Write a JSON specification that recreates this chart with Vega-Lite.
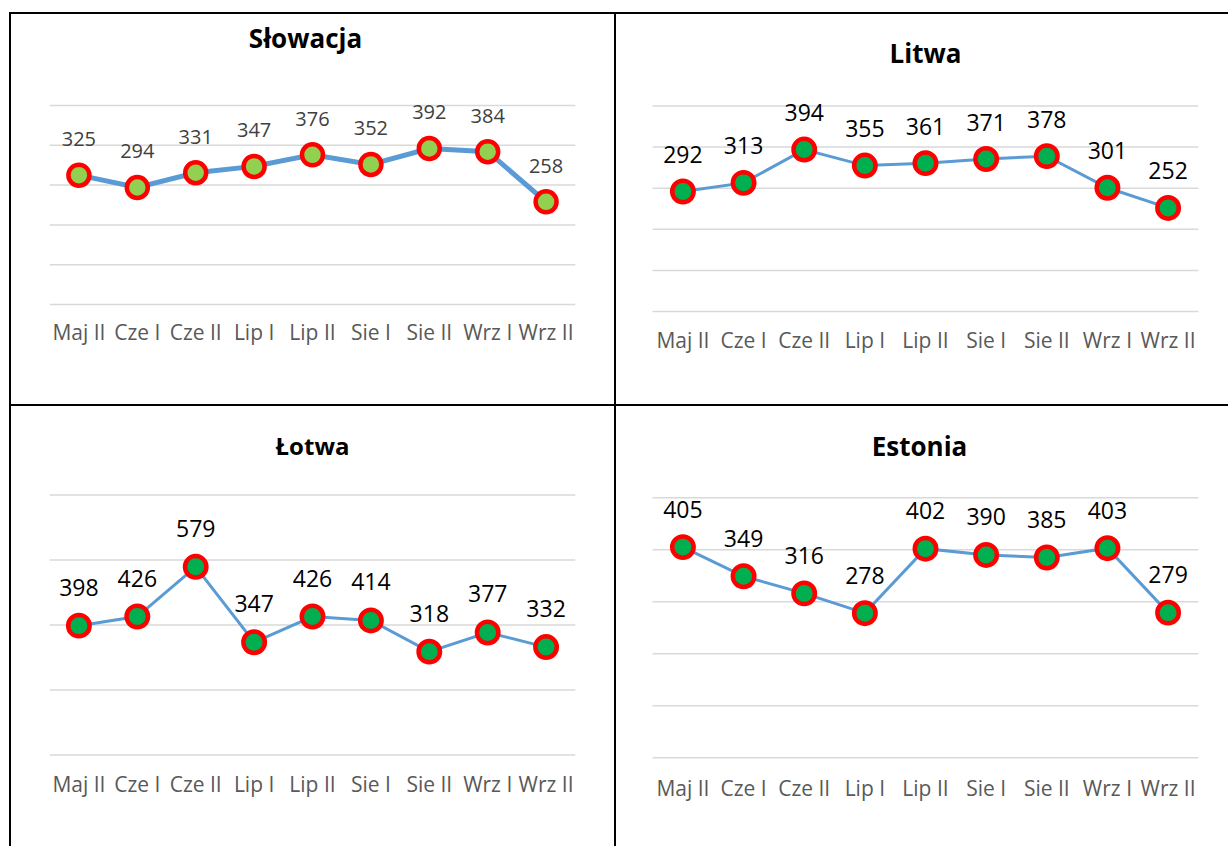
{
  "$schema": "https://vega.github.io/schema/vega-lite/v6.json",
  "padding": {"left": 9, "top": 12, "right": 0, "bottom": 0},
  "background": "#ffffff",
  "columns": 2,
  "spacing": 0,
  "bounds": "flush",
  "config": {
    "view": {"stroke": "#000000", "strokeWidth": 2},
    "font": "Open Sans",
    "concat": {"spacing": 0}
  },
  "concat": [
        {
          "width": 605,
          "height": 392,
          "data": {"values": [
            {"okres": "Maj II", "wartosc": 325},
            {"okres": "Cze I", "wartosc": 294},
            {"okres": "Cze II", "wartosc": 331},
            {"okres": "Lip I", "wartosc": 347},
            {"okres": "Lip II", "wartosc": 376},
            {"okres": "Sie I", "wartosc": 352},
            {"okres": "Sie II", "wartosc": 392},
            {"okres": "Wrz I", "wartosc": 384},
            {"okres": "Wrz II", "wartosc": 258}
          ]},
          "layer": [
            {
              "data": {"values": [{"v": 0}, {"v": 100}, {"v": 200}, {"v": 300}, {"v": 400}, {"v": 500}]},
              "mark": {"type": "rule", "color": "#D9D9D9", "strokeWidth": 1.5},
              "encoding": {
                "x": {"datum": "Maj II", "type": "ordinal", "bandPosition": 0, "scale": {"type": "band", "domain": ["Maj II", "Cze I", "Cze II", "Lip I", "Lip II", "Sie I", "Sie II", "Wrz I", "Wrz II"], "paddingInner": 0, "paddingOuter": 0.68}, "axis": null},
                "x2": {"datum": "Wrz II", "bandPosition": 1},
                "y": {"field": "v", "type": "quantitative", "scale": {"domain": [-252.5, 732.4], "nice": false, "zero": false}, "axis": null}
              }
            },
            {
              "mark": {"type": "line", "color": "#5B9BD5", "strokeWidth": 5},
              "encoding": {
                "x": {"field": "okres", "type": "ordinal", "sort": null, "axis": null},
                "y": {"field": "wartosc", "type": "quantitative"},
                "order": {"value": null}
              }
            },
            {
              "mark": {"type": "circle", "size": 440, "fill": "#92D050", "stroke": "#FF0000", "strokeWidth": 4.5, "opacity": 1},
              "encoding": {
                "x": {"field": "okres", "type": "ordinal", "sort": null},
                "y": {"field": "wartosc", "type": "quantitative"}
              }
            },
            {
              "mark": {"type": "text", "fontSize": 20, "color": "#404040", "baseline": "alphabetic", "dy": -29},
              "encoding": {
                "x": {"field": "okres", "type": "ordinal", "sort": null},
                "y": {"field": "wartosc", "type": "quantitative"},
                "text": {"field": "wartosc", "type": "quantitative"}
              }
            },
            {
              "mark": {"type": "text", "fontSize": 21, "color": "#595959", "baseline": "alphabetic"},
              "encoding": {
                "x": {"field": "okres", "type": "ordinal", "sort": null},
                "y": {"datum": -89.2},
                "text": {"field": "okres"}
              }
            },
            {
              "data": {"values": [{"tytul": "Słowacja"}]},
              "mark": {"type": "text", "fontSize": 26, "fontWeight": "bold", "color": "#000000", "baseline": "alphabetic", "dx": -7},
              "encoding": {
                "x": {"datum": "Lip II", "type": "ordinal"},
                "y": {"datum": 644.5},
                "text": {"field": "tytul"}
              }
            }
          ]
        },
        {
          "width": 621,
          "height": 392,
          "data": {"values": [
            {"okres": "Maj II", "wartosc": 292},
            {"okres": "Cze I", "wartosc": 313},
            {"okres": "Cze II", "wartosc": 394},
            {"okres": "Lip I", "wartosc": 355},
            {"okres": "Lip II", "wartosc": 361},
            {"okres": "Sie I", "wartosc": 371},
            {"okres": "Sie II", "wartosc": 378},
            {"okres": "Wrz I", "wartosc": 301},
            {"okres": "Wrz II", "wartosc": 252}
          ]},
          "layer": [
            {
              "data": {"values": [{"v": 0}, {"v": 100}, {"v": 200}, {"v": 300}, {"v": 400}, {"v": 500}]},
              "mark": {"type": "rule", "color": "#D9D9D9", "strokeWidth": 1.5},
              "encoding": {
                "x": {"datum": "Maj II", "type": "ordinal", "bandPosition": 0, "scale": {"type": "band", "domain": ["Maj II", "Cze I", "Cze II", "Lip I", "Lip II", "Sie I", "Sie II", "Wrz I", "Wrz II"], "paddingInner": 0, "paddingOuter": 0.62}, "axis": null},
                "x2": {"datum": "Wrz II", "bandPosition": 1},
                "y": {"field": "v", "type": "quantitative", "scale": {"domain": [-227.5, 726.3], "nice": false, "zero": false}, "axis": null}
              }
            },
            {
              "mark": {"type": "line", "color": "#5B9BD5", "strokeWidth": 3},
              "encoding": {
                "x": {"field": "okres", "type": "ordinal", "sort": null},
                "y": {"field": "wartosc", "type": "quantitative"},
                "order": {"value": null}
              }
            },
            {
              "mark": {"type": "circle", "size": 460, "fill": "#00B050", "stroke": "#FF0000", "strokeWidth": 4.5, "opacity": 1},
              "encoding": {
                "x": {"field": "okres", "type": "ordinal", "sort": null},
                "y": {"field": "wartosc", "type": "quantitative"}
              }
            },
            {
              "mark": {"type": "text", "fontSize": 23, "color": "#000000", "baseline": "alphabetic", "dy": -28.5},
              "encoding": {
                "x": {"field": "okres", "type": "ordinal", "sort": null},
                "y": {"field": "wartosc", "type": "quantitative"},
                "text": {"field": "wartosc", "type": "quantitative"}
              }
            },
            {
              "mark": {"type": "text", "fontSize": 21, "color": "#595959", "baseline": "alphabetic"},
              "encoding": {
                "x": {"field": "okres", "type": "ordinal", "sort": null},
                "y": {"datum": -89.5},
                "text": {"field": "okres"}
              }
            },
            {
              "data": {"values": [{"tytul": "Litwa"}]},
              "mark": {"type": "text", "fontSize": 26, "fontWeight": "bold", "color": "#000000", "baseline": "alphabetic"},
              "encoding": {
                "x": {"datum": "Lip II", "type": "ordinal"},
                "y": {"datum": 604.6},
                "text": {"field": "tytul"}
              }
            }
          ]
        },
        {
          "width": 605,
          "height": 450,
          "data": {"values": [
            {"okres": "Maj II", "wartosc": 398},
            {"okres": "Cze I", "wartosc": 426},
            {"okres": "Cze II", "wartosc": 579},
            {"okres": "Lip I", "wartosc": 347},
            {"okres": "Lip II", "wartosc": 426},
            {"okres": "Sie I", "wartosc": 414},
            {"okres": "Sie II", "wartosc": 318},
            {"okres": "Wrz I", "wartosc": 377},
            {"okres": "Wrz II", "wartosc": 332}
          ]},
          "layer": [
            {
              "data": {"values": [{"v": 0}, {"v": 200}, {"v": 400}, {"v": 600}, {"v": 800}]},
              "mark": {"type": "rule", "color": "#D9D9D9", "strokeWidth": 1.5},
              "encoding": {
                "x": {"datum": "Maj II", "type": "ordinal", "bandPosition": 0, "scale": {"type": "band", "domain": ["Maj II", "Cze I", "Cze II", "Lip I", "Lip II", "Sie I", "Sie II", "Wrz I", "Wrz II"], "paddingInner": 0, "paddingOuter": 0.68}, "axis": null},
                "x2": {"datum": "Wrz II", "bandPosition": 1},
                "y": {"field": "v", "type": "quantitative", "scale": {"domain": [-307.7, 1076.9], "nice": false, "zero": false}, "axis": null}
              }
            },
            {
              "mark": {"type": "line", "color": "#5B9BD5", "strokeWidth": 3},
              "encoding": {
                "x": {"field": "okres", "type": "ordinal", "sort": null},
                "y": {"field": "wartosc", "type": "quantitative"},
                "order": {"value": null}
              }
            },
            {
              "mark": {"type": "circle", "size": 460, "fill": "#00B050", "stroke": "#FF0000", "strokeWidth": 4.5, "opacity": 1},
              "encoding": {
                "x": {"field": "okres", "type": "ordinal", "sort": null},
                "y": {"field": "wartosc", "type": "quantitative"}
              }
            },
            {
              "mark": {"type": "text", "fontSize": 23, "color": "#000000", "baseline": "alphabetic", "dy": -30},
              "encoding": {
                "x": {"field": "okres", "type": "ordinal", "sort": null},
                "y": {"field": "wartosc", "type": "quantitative"},
                "text": {"field": "wartosc", "type": "quantitative"}
              }
            },
            {
              "mark": {"type": "text", "fontSize": 21, "color": "#595959", "baseline": "alphabetic"},
              "encoding": {
                "x": {"field": "okres", "type": "ordinal", "sort": null},
                "y": {"datum": -113.8},
                "text": {"field": "okres"}
              }
            },
            {
              "data": {"values": [{"tytul": "Łotwa"}]},
              "mark": {"type": "text", "fontSize": 24, "fontWeight": "bold", "color": "#000000", "baseline": "alphabetic"},
              "encoding": {
                "x": {"datum": "Lip II", "type": "ordinal"},
                "y": {"datum": 923},
                "text": {"field": "tytul"}
              }
            }
          ]
        },
        {
          "width": 621,
          "height": 450,
          "data": {"values": [
            {"okres": "Maj II", "wartosc": 405},
            {"okres": "Cze I", "wartosc": 349},
            {"okres": "Cze II", "wartosc": 316},
            {"okres": "Lip I", "wartosc": 278},
            {"okres": "Lip II", "wartosc": 402},
            {"okres": "Sie I", "wartosc": 390},
            {"okres": "Sie II", "wartosc": 385},
            {"okres": "Wrz I", "wartosc": 403},
            {"okres": "Wrz II", "wartosc": 279}
          ]},
          "layer": [
            {
              "data": {"values": [{"v": 0}, {"v": 100}, {"v": 200}, {"v": 300}, {"v": 400}, {"v": 500}]},
              "mark": {"type": "rule", "color": "#D9D9D9", "strokeWidth": 1.5},
              "encoding": {
                "x": {"datum": "Maj II", "type": "ordinal", "bandPosition": 0, "scale": {"type": "band", "domain": ["Maj II", "Cze I", "Cze II", "Lip I", "Lip II", "Sie I", "Sie II", "Wrz I", "Wrz II"], "paddingInner": 0, "paddingOuter": 0.62}, "axis": null},
                "x2": {"datum": "Wrz II", "bandPosition": 1},
                "y": {"field": "v", "type": "quantitative", "scale": {"domain": [-187.1, 678.3], "nice": false, "zero": false}, "axis": null}
              }
            },
            {
              "mark": {"type": "line", "color": "#5B9BD5", "strokeWidth": 3},
              "encoding": {
                "x": {"field": "okres", "type": "ordinal", "sort": null},
                "y": {"field": "wartosc", "type": "quantitative"},
                "order": {"value": null}
              }
            },
            {
              "mark": {"type": "circle", "size": 460, "fill": "#00B050", "stroke": "#FF0000", "strokeWidth": 4.5, "opacity": 1},
              "encoding": {
                "x": {"field": "okres", "type": "ordinal", "sort": null},
                "y": {"field": "wartosc", "type": "quantitative"}
              }
            },
            {
              "mark": {"type": "text", "fontSize": 23, "color": "#000000", "baseline": "alphabetic", "dy": -29.5},
              "encoding": {
                "x": {"field": "okres", "type": "ordinal", "sort": null},
                "y": {"field": "wartosc", "type": "quantitative"},
                "text": {"field": "wartosc", "type": "quantitative"}
              }
            },
            {
              "mark": {"type": "text", "fontSize": 21, "color": "#595959", "baseline": "alphabetic"},
              "encoding": {
                "x": {"field": "okres", "type": "ordinal", "sort": null},
                "y": {"datum": -73.7},
                "text": {"field": "okres"}
              }
            },
            {
              "data": {"values": [{"tytul": "Estonia"}]},
              "mark": {"type": "text", "fontSize": 26, "fontWeight": "bold", "color": "#000000", "baseline": "alphabetic", "dx": -6},
              "encoding": {
                "x": {"datum": "Lip II", "type": "ordinal"},
                "y": {"datum": 580},
                "text": {"field": "tytul"}
              }
            }
          ]
        }
  ]
}
